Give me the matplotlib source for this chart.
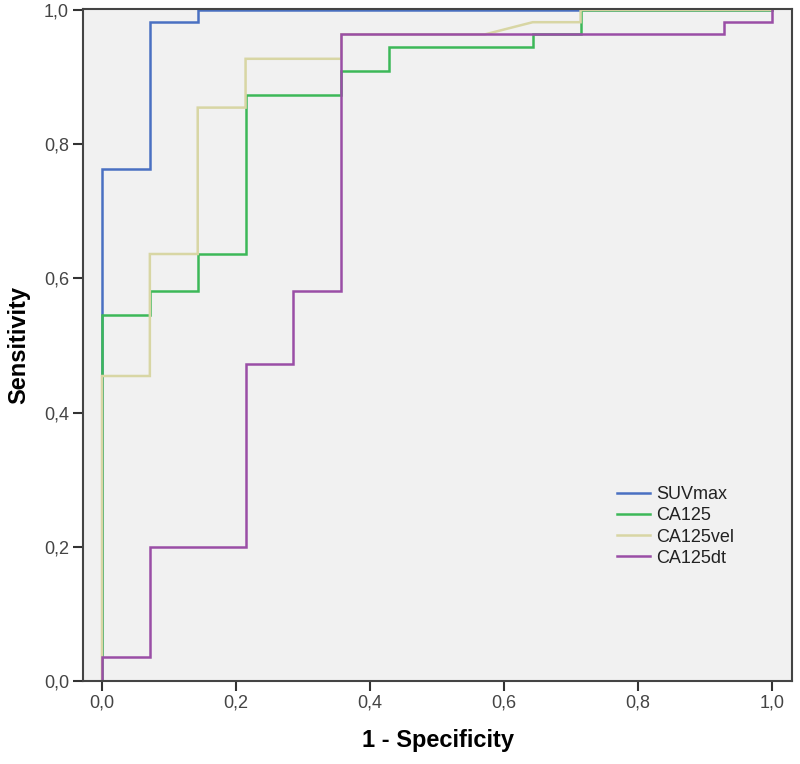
import matplotlib
matplotlib.use('Agg')
import matplotlib.pyplot as plt

plt.rcParams['font.family'] = ['Liberation Sans', 'DejaVu Sans']

# ROC vertices: false positives out of 14 negatives, true positives out of 55 positives
n_neg = 14
n_pos = 55

suv_fp = [0, 0, 1, 1, 2, 2, 14]
suv_tp = [0, 42, 42, 54, 54, 55, 55]

ca125_fp = [0, 0, 1, 1, 2, 2, 3, 3, 5, 5, 6, 6, 9, 9, 10, 10, 14]
ca125_tp = [0, 30, 30, 32, 32, 35, 35, 48, 48, 50, 50, 52, 52, 53, 53, 55, 55]

vel_fp = [0, 0, 1, 1, 2, 2, 3, 3, 5, 5, 8, 9, 10, 10, 14]
vel_tp = [0, 25, 25, 35, 35, 47, 47, 51, 51, 53, 53, 54, 54, 55, 55]

dt_fp = [0, 0, 1, 1, 3, 3, 4, 4, 5, 5, 13, 13, 14, 14]
dt_tp = [0, 2, 2, 11, 11, 26, 26, 32, 32, 53, 53, 54, 54, 55]

series = [
    ('SUVmax', suv_fp, suv_tp, '#4a70c2'),
    ('CA125', ca125_fp, ca125_tp, '#3cb858'),
    ('CA125vel', vel_fp, vel_tp, '#d8d6a4'),
    ('CA125dt', dt_fp, dt_tp, '#9a4ea6'),
]

tick_vals = [0.0, 0.2, 0.4, 0.6, 0.8, 1.0]
tick_labels = ['0,0', '0,2', '0,4', '0,6', '0,8', '1,0']

fig = plt.figure(figsize=(8, 7.64), dpi=100)
ax = fig.add_axes([83 / 800, 1 - 681 / 764, 709 / 800, 672 / 764])
ax.set_facecolor('#f1f1f1')

for name, fp, tp, color in series:
    x = [v / n_neg for v in fp]
    y = [v / n_pos for v in tp]
    ax.plot(x, y, color=color, linewidth=1.8, label=name, solid_joinstyle='miter')

ax.set_xlim(-19 / 670, 1 + 20 / 670)
ax.set_ylim(0, 1 + 1 / 670)

ax.set_xticks(tick_vals)
ax.set_xticklabels(tick_labels)
ax.set_yticks(tick_vals)
ax.set_yticklabels(tick_labels)
ax.tick_params(axis='both', direction='out', length=7, width=1.5,
               color='#333333', labelsize=13, labelcolor='#444444', pad=3)

for side in ['left', 'bottom', 'top', 'right']:
    ax.spines[side].set_color('#444444')
    ax.spines[side].set_linewidth(1.5)

ax.set_xlabel('1 - Specificity', fontsize=17, fontweight='bold', labelpad=12)
ax.set_ylabel('Sensitivity', fontsize=17, fontweight='bold', labelpad=10)

ax.legend(loc='upper left', bbox_to_anchor=(608 / 800, 1 - 477 / 764),
          bbox_transform=fig.transFigure, frameon=False, borderpad=0,
          fontsize=13, handlelength=1.85, handletextpad=0.3,
          labelspacing=0.235, labelcolor='#222222')

fig.savefig('out.png', dpi=100)
